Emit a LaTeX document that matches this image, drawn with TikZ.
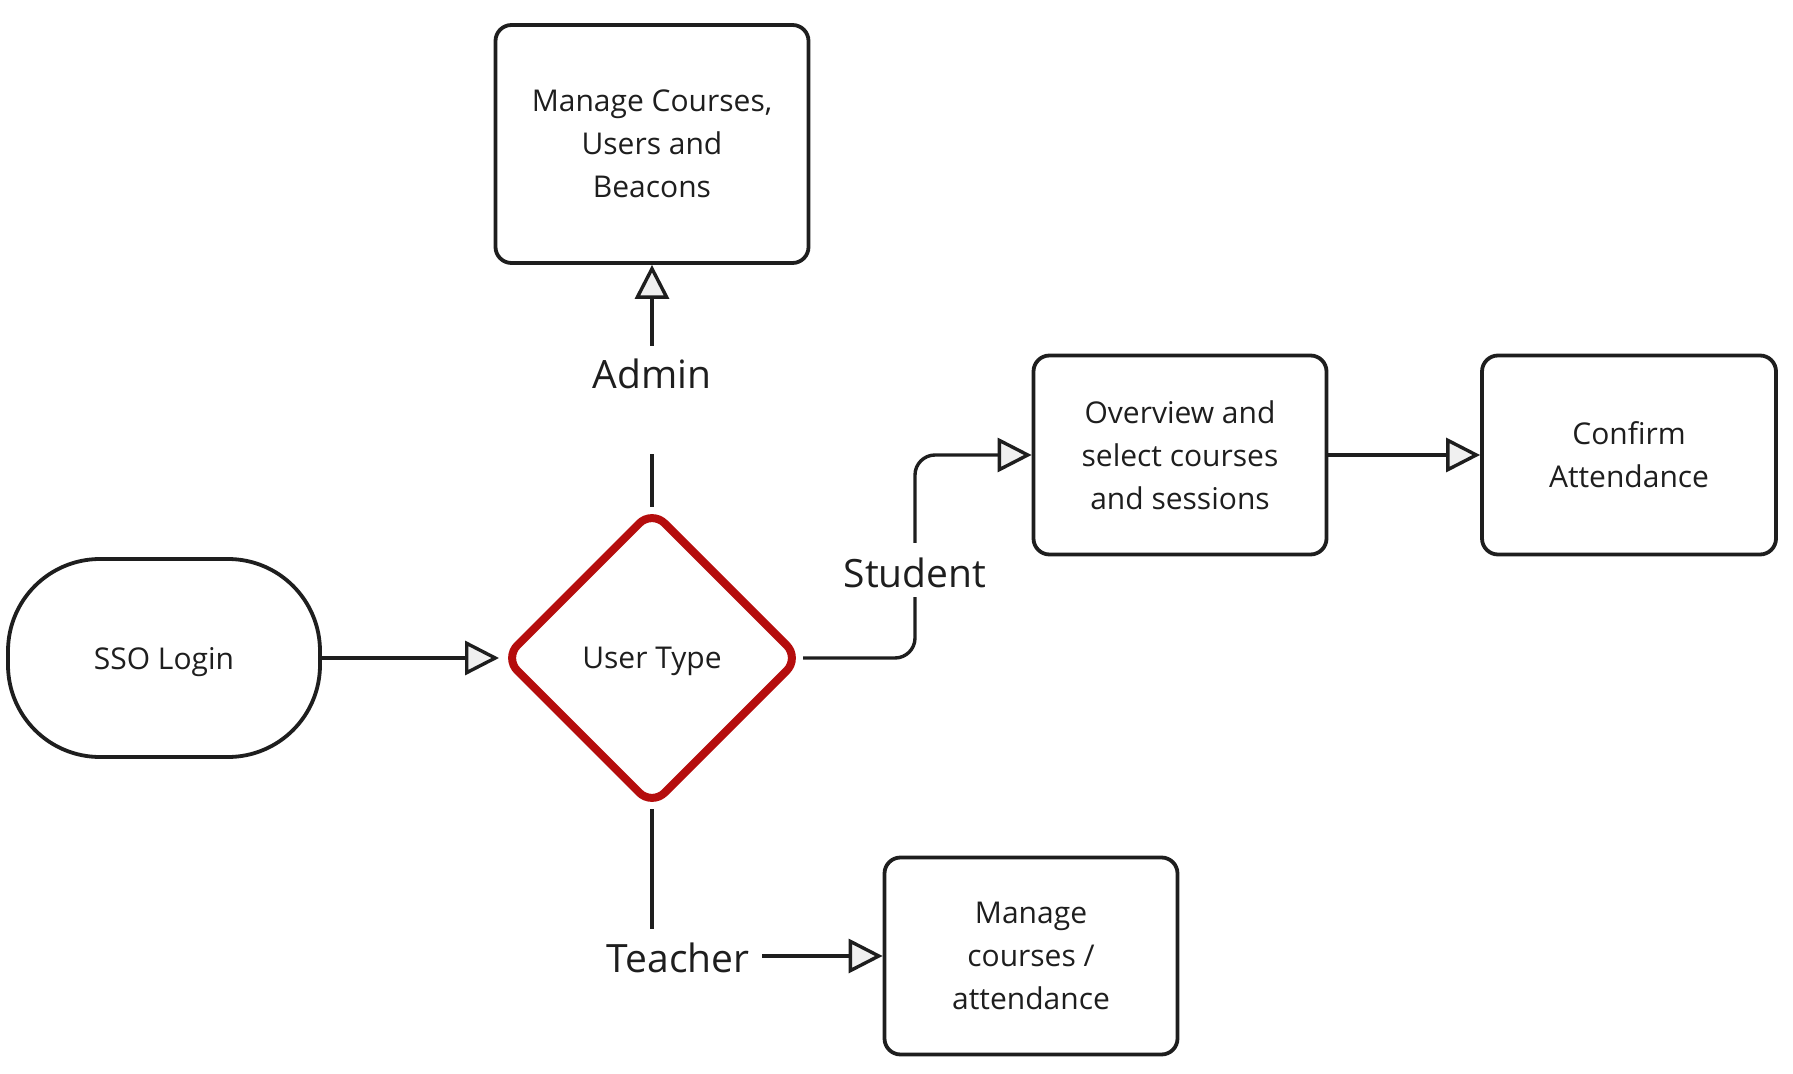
\documentclass[tikz,border=0pt]{standalone}
\usepackage{fontspec}
\setmainfont{Open Sans}
\usetikzlibrary{arrows.meta,shapes.geometric}
\definecolor{ink}{HTML}{1E1E1E}
\definecolor{dred}{HTML}{B50D0D}
\tikzset{
  box/.style={draw=ink, line width=1.9pt, rounded corners=8pt, align=center, inner sep=0pt,
    font=\fontsize{15}{21.5}\selectfont, text=ink},
  lbl/.style={font=\fontsize{19.5}{24}\selectfont, text=ink, inner sep=0pt},
  conn/.style={draw=ink, line width=1.7pt},
  arr/.style={conn, -{Triangle[length=17pt,width=17pt,fill=gray!12]}},
}
\begin{document}
\begin{tikzpicture}[x=0.5pt,y=-0.5pt]
\useasboundingbox (0,0) rectangle (1793,1074);
\node[box, minimum width=156.5pt, minimum height=119pt] (admin) at (652,144) {Manage Courses,\\Users and\\Beacons};
\node[box, rounded corners=46pt, minimum width=156pt, minimum height=99pt, text depth=0pt] (sso) at (164,658) {SSO Login};
\node[draw=dred, line width=4pt, diamond, shape aspect=1, rounded corners=9pt, minimum width=149pt, minimum height=149pt, inner sep=0pt,
  font=\fontsize{15}{21.5}\selectfont, text=ink, text depth=0pt] (ut) at (652,658) {User Type};
\node[box, minimum width=146.5pt, minimum height=99.5pt] (over) at (1180,455) {Overview and\\select courses\\and sessions};
\node[box, minimum width=147pt, minimum height=99.5pt] (conf) at (1629,455) {Confirm\\Attendance};
\node[box, minimum width=146.5pt, minimum height=98.5pt] (mng) at (1031,956) {Manage\\courses /\\attendance};
\node[lbl] (la) at (652,374) {Admin};
\node[lbl] (ls) at (915,573) {Student};
\node[lbl] (lt) at (678,958) {Teacher};
\coordinate (a1) at (652,454);
\coordinate (a2) at (652,346);
\coordinate (s1) at (915,597);
\coordinate (s2) at (915,543);
\coordinate (t1) at (652,929);
\coordinate (t2) at (762,956);
\draw[arr] (sso.east) -- (ut.west);
\draw[conn] ([yshift=-1pt]ut.north) -- (a1);
\draw[arr] (a2) -- (admin.south);
\draw[conn, rounded corners=10pt] ([xshift=-1pt]ut.east) -| (s1);
\draw[arr, rounded corners=10pt] (s2) |- (over.west);
\draw[conn] ([yshift=1pt]ut.south) -- (t1);
\draw[arr] (t2) -- (mng.west);
\draw[arr] (over.east) -- (conf.west);
\end{tikzpicture}
\end{document}
